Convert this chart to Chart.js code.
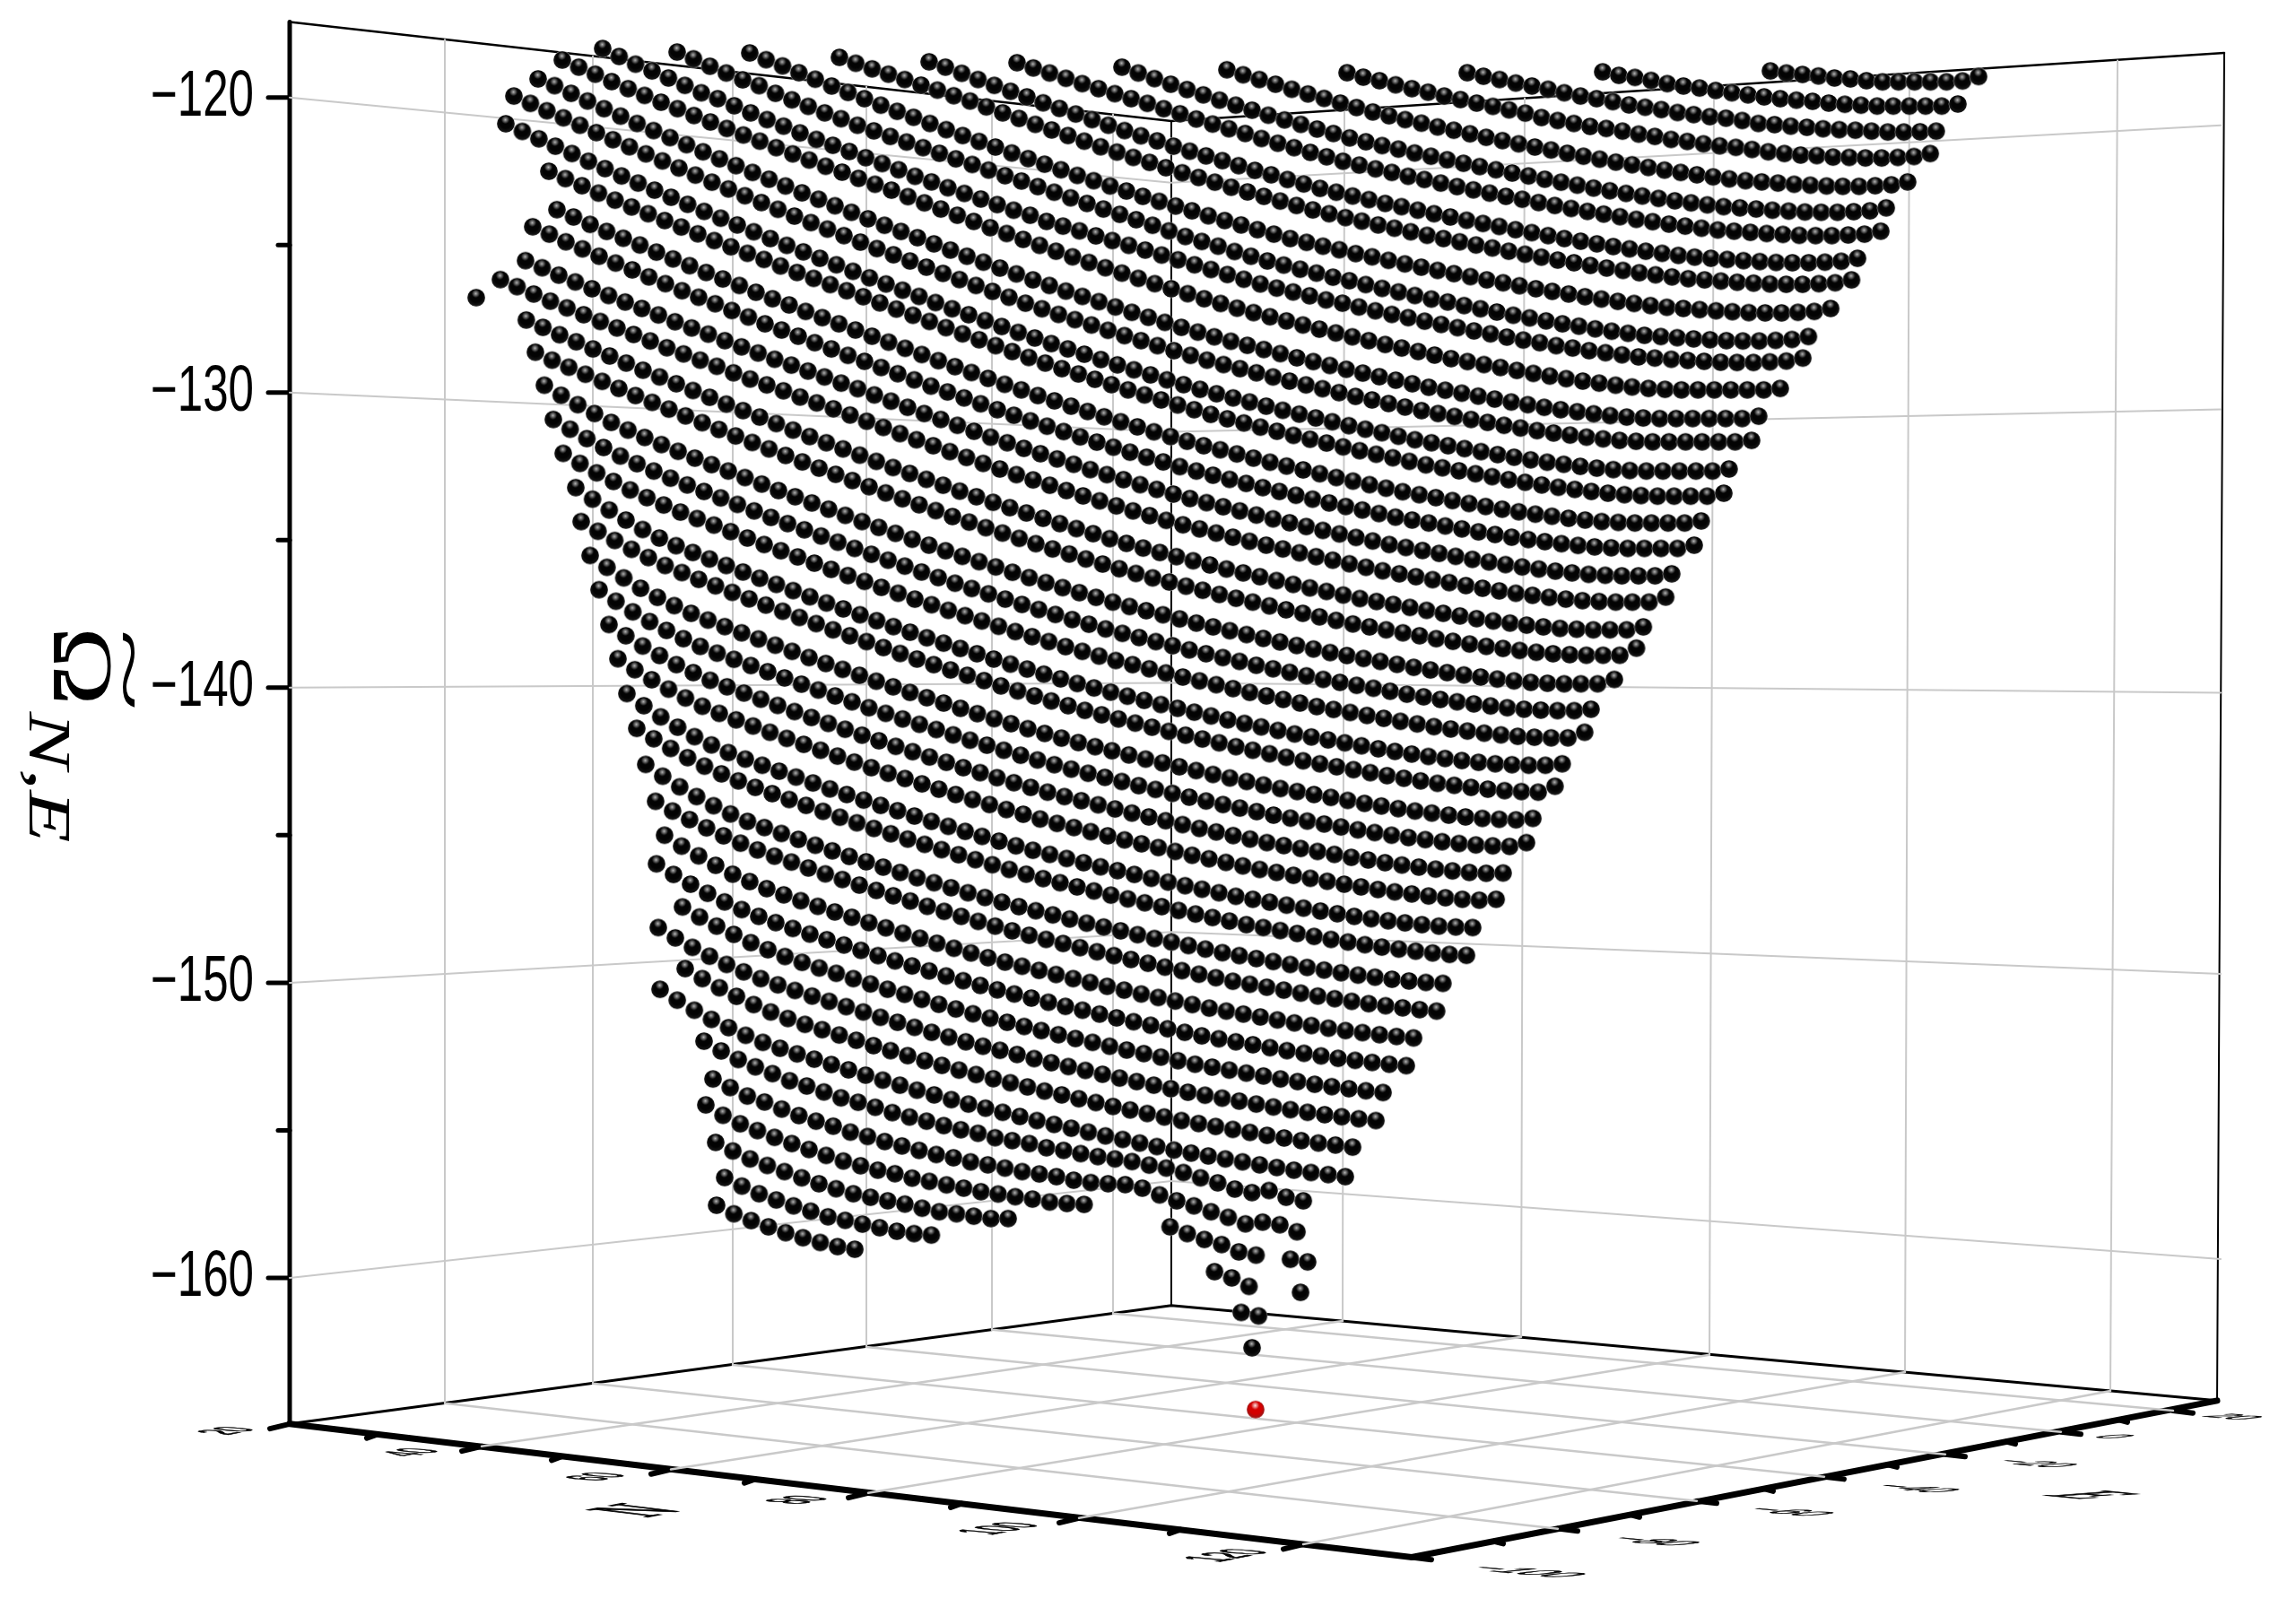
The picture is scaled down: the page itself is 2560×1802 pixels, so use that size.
<!DOCTYPE html>
<html>
<head>
  <meta charset="UTF-8">
  <title>Omega surface</title>
  <script src="https://cdn.jsdelivr.net/npm/chart.js"></script>
  <style>
    html, body { margin: 0; padding: 0; background: #fff; }
    canvas { display: block; }
  </style>
</head>
<body>
  <canvas id="surface" width="2560" height="1802"></canvas>

  <script>
    // The 3D box is read as it appears on the page: a horizontal reading (x)
    // against the printed Omega axis (y). Every mark goes through these two scales.

    // lattice rows, top to bottom: first horizontal reading, spacing, Omega of first point
    const rowStart = [1651,1464,1313,1179,1045,928,811,713,613,513,432,349,304,277,250,241,289,298,271,263,235,208,274,284,294,305,319,325,335,345,356,366,376,387,397,408,418,409,438,411,441,413,462,472,464,475,485,476];
    const rowStep = [17.85,18,18.03,18.06,18.07,18.13,18.17,18.16,18.2,18.26,18.28,18.33,18.35,18.39,18.4,18.43,18.45,18.49,18.5,18.52,18.56,18.59,18.6,18.64,18.66,18.67,18.64,18.72,18.77,18.8,18.81,18.83,18.86,18.88,18.91,18.93,18.98,19,19.05,19.05,19.08,19.1,19.09,19.15,19.17,19.18,19.2,19.26];
    const rowTop = [-119.10,-119.13,-119.16,-119.16,-119.06,-118.97,-118.82,-118.79,-118.64,-118.49,-118.46,-118.34,-118.73,-119.37,-119.95,-120.89,-122.50,-123.80,-124.38,-125.53,-126.17,-126.78,-128.63,-129.75,-130.91,-132.06,-133.22,-134.37,-135.52,-136.68,-137.86,-139.02,-140.20,-141.38,-142.60,-143.85,-145.00,-145.97,-147.43,-148.13,-149.52,-150.22,-151.98,-153.26,-154.14,-155.41,-156.60,-157.54];

    // how far each point of a row lies below the row's first point, in 0.01 of Omega (null = no point)
    const rowFall = [
      [0,7,12,17,24,27,33,37,37,37,37,37,34,19],
      [0,12,19,29,40,48,55,63,71,78,85,91,96,100,106,110,113,116,116,116,116,116,109],
      [0,12,23,35,45,56,68,79,88,98,109,117,125,135,142,149,154,162,172,176,181,185,190,193,195,198,201,201,200,198],
      [0,15,27,41,54,66,79,91,103,114,126,137,152,162,172,182,189,198,208,216,226,233,241,248,253,260,268,274,279,281,286,287,289,289,287,284,274],
      [0,17,33,49,66,82,97,113,128,143,156,169,181,194,205,217,229,240,251,262,272,283,293,303,313,322,331,340,348,356,363,370,376,380,384,388,391,394,395,395,393,390,380],
      [0,20,39,58,76,94,112,129,146,163,179,194,210,225,240,253,266,278,291,302,314,326,337,348,359,369,380,390,400,410,419,428,437,445,453,460,467,473,477,481,485,488,491,492,492,490,487,477],
      [0,18,35,53,71,88,105,122,138,156,173,191,208,224,240,257,273,288,304,319,334,347,360,372,385,396,408,420,431,442,453,463,474,484,494,504,513,522,531,539,547,554,561,567,571,575,579,582,585,586,586,584,581,571],
      [0,18,39,60,80,100,119,139,158,177,196,215,233,251,268,286,303,319,335,352,368,383,399,414,429,442,455,467,480,491,503,515,526,537,548,558,569,579,589,599,608,617,626,634,642,649,656,662,666,670,674,677,680,681,681,679,676,666],
      [0,20,39,57,75,94,111,130,148,168,188,207,227,246,265,284,303,321,339,356,374,391,407,423,440,456,471,487,502,517,530,543,555,568,579,591,603,614,625,636,646,657,667,677,687,696,705,714,722,730,737,744,750,754,758,762,765,768,769,769,767,764,754],
      [0,23,44,67,89,112,134,155,177,198,218,239,260,280,300,319,339,358,377,396,415,433,451,468,486,503,519,535,552,568,583,599,614,629,642,655,667,680,691,703,715,726,737,748,758,769,779,789,799,808,817,826,834,842,849,856,862,866,870,874,877,880,881,881,879,876,866],
      [0,23,48,71,94,114,140,162,184,206,226,248,267,286,305,324,343,362,381,400,419,437,456,475,494,513,532,550,568,587,606,625,642,658,676,692,708,722,736,749,763,775,788,801,813,825,837,847,859,870,881,892,901,911,921,929,938,946,953,960,964,968,972,975,978,979,979,977,974,964],
      [0,27,53,76,100,125,150,170,194,218,241,263,286,308,328,349,370,390,411,433,452,472,491,510,529,548,565,586,602,618,635,651,667,683,700,716,733,749,766,782,798,812,825,838,852,863,876,889,901,912,924,935,946,957,967,978,988,997,1007,1015,1024,1031,1038,1045,1049,1053,1057,1060,1063,1064,1064,1062,1059,1049],
      [0,24,48,73,97,120,143,165,188,210,232,254,275,297,318,339,360,380,401,421,441,463,484,505,526,547,568,588,608,628,648,667,686,704,722,740,758,775,792,809,825,841,856,870,884,898,912,925,938,951,964,976,988,1000,1012,1022,1032,1042,1052,1062,1071,1080,1088,1095,1102,1108,1113,1116,1118,1118,1118,1118,1118,1118,1113],
      [0,23,49,75,101,126,151,175,199,223,247,271,294,317,340,363,386,408,430,452,474,496,517,538,559,580,601,621,641,661,681,700,719,737,755,773,791,808,825,842,858,874,889,903,917,931,945,958,971,984,997,1009,1021,1033,1045,1055,1065,1075,1085,1095,1104,1113,1121,1128,1135,1141,1146,1149,1151,1151,1151,1151,1151,1151,1143],
      [0,25,50,74,99,124,148,172,196,220,244,268,292,315,338,361,384,407,429,451,473,495,517,538,559,580,601,622,642,662,682,702,721,740,758,776,794,812,829,846,863,879,895,910,924,938,952,966,979,992,1005,1018,1030,1042,1054,1066,1076,1086,1096,1106,1116,1125,1134,1142,1149,1156,1162,1167,1170,1172,1172,1172,1172,1172,1172,1167],
      [0,26,51,76,101,127,152,177,201,225,249,273,297,320,343,366,389,412,434,456,478,500,522,543,564,585,606,627,647,667,687,707,726,745,763,781,799,817,834,851,868,884,900,915,929,943,957,971,984,997,1010,1023,1035,1047,1059,1071,1081,1091,1101,1111,1121,1130,1139,1147,1154,1161,1167,1172,1175,1177,1177,1177,1177,1177,1170],
      [0,25,49,74,98,121,144,167,189,212,235,256,278,299,321,343,363,384,405,425,446,467,488,509,530,551,571,591,611,631,650,669,687,705,723,741,758,775,792,808,824,839,853,867,881,895,908,921,934,947,959,971,983,995,1005,1015,1025,1035,1045,1054,1063,1071,1078,1085,1091,1096,1099,1101,1101,1101,1101,1091],
      [0,25,50,74,97,120,144,167,190,213,235,257,280,302,323,345,366,387,408,429,449,470,491,512,532,552,572,592,611,630,648,666,684,702,719,736,753,769,785,800,814,828,842,856,869,882,895,908,920,932,944,956,966,976,986,996,1006,1015,1024,1032,1039,1046,1052,1057,1060,1062,1062,1062,1062,1055],
      [0,25,51,75,100,123,146,170,193,217,239,261,284,306,329,350,371,393,414,436,456,477,498,519,540,560,580,600,620,639,658,676,694,712,730,747,764,781,797,813,828,842,856,870,884,897,910,923,936,948,960,972,984,994,1004,1014,1024,1034,1043,1052,1060,1067,1074,1080,1085,1088,1090,1090,1090,1090,1079],
      [0,24,49,72,95,118,140,162,184,207,228,249,271,292,313,334,354,374,394,415,434,455,476,497,518,538,558,578,598,617,636,654,672,690,708,725,742,759,775,791,806,820,834,848,862,875,888,901,914,926,938,950,962,972,982,992,1002,1012,1021,1030,1038,1045,1052,1058,1063,1066,1068,1068,1068,1061],
      [0,24,49,73,96,119,142,164,186,208,231,252,273,294,316,337,357,377,398,418,438,459,480,501,522,543,563,583,603,623,642,661,679,697,715,733,750,767,784,800,816,831,845,859,873,887,900,913,926,939,951,963,975,987,997,1007,1017,1027,1037,1046,1055,1063,1070,1077,1083,1088,1091,1093,1093,1093,1076],
      [0,null,null,76,101,126,150,174,198,222,246,269,292,315,338,361,383,405,427,449,471,492,513,534,555,576,596,616,636,656,675,694,712,730,748,766,783,800,817,833,849,864,878,892,906,920,933,946,959,972,984,996,1008,1020,1030,1040,1050,1060,1070,1079,1088,1096,1103,1110,1116,1121,1124,1126,1126,1126,1116],
      [0,27,51,75,99,123,147,170,193,216,239,262,284,306,328,350,372,393,414,435,456,477,497,517,537,557,576,595,613,631,649,667,684,701,718,734,750,765,779,793,807,821,834,847,860,873,885,897,909,921,931,941,951,961,971,980,989,997,1004,1011,1017,1022,1025,1027,1027,1027,1003],
      [0,34,66,96,126,152,177,201,224,247,269,291,313,335,357,378,399,420,441,462,482,502,522,542,561,580,598,616,634,652,669,686,703,719,735,750,764,778,792,806,819,832,845,858,870,882,894,906,916,926,936,946,956,965,974,982,989,996,1002,1007,1010,1012,1012,1012,997],
      [0,33,65,95,124,150,175,199,222,244,266,288,310,332,353,374,395,416,437,457,477,497,517,536,555,573,591,609,627,644,661,678,694,710,725,739,753,767,781,794,807,820,833,845,857,869,881,891,901,911,921,931,940,949,957,964,971,977,982,985,987,987,982],
      [0,34,66,95,124,150,175,199,221,243,265,287,309,330,351,372,393,414,434,454,474,494,513,532,550,568,586,604,621,638,655,671,687,702,716,730,744,758,771,784,797,810,822,834,846,858,868,878,888,898,908,917,926,934,941,948,954,959,962,964,964,945],
      [0,39,76,110,142,171,197,220,242,264,286,307,328,349,370,391,411,431,451,471,490,509,527,545,563,581,598,615,632,648,664,679,693,707,721,735,748,761,774,787,799,811,823,835,845,855,865,875,885,894,903,911,918,925,931,936,939,941,941,936],
      [0,33,64,94,122,149,173,196,218,240,262,283,304,325,346,367,387,407,427,447,466,485,503,521,539,557,574,591,608,624,640,655,669,683,697,711,724,737,750,763,775,787,799,811,821,831,841,851,861,870,879,887,894,901,907,912,915,917,897],
      [0,40,76,111,142,170,196,219,241,262,283,304,325,346,366,386,406,426,445,464,482,500,518,536,553,570,587,603,619,634,648,662,676,690,703,716,729,742,754,766,778,790,800,810,820,830,840,849,858,866,873,880,886,891,894,896,891],
      [0,39,75,108,138,166,192,215,236,257,278,299,320,340,360,380,400,419,438,456,474,492,510,527,544,561,577,593,608,622,636,650,664,677,690,703,716,728,740,752,764,774,784,794,804,814,823,832,840,847,854,860,865,868,870,857],
      [0,38,73,105,136,163,189,211,232,253,274,295,315,335,355,375,394,413,431,449,467,485,502,519,536,552,568,583,597,611,625,639,652,665,678,691,703,715,727,739,749,759,769,779,789,798,807,815,822,829,835,840,843,842],
      [0,37,71,103,133,161,185,207,228,249,270,290,310,330,350,369,388,406,424,442,460,477,494,511,527,543,558,572,586,600,614,627,640,653,666,678,690,702,714,724,734,744,754,764,773,782,790,797,804,810,815,818,815],
      [0,41,79,114,146,174,200,222,243,263,283,303,323,342,361,379,397,415,433,450,467,484,500,516,531,545,559,573,587,600,613,626,639,651,663,675,687,697,707,717,727,737,746,755,763,770,777,783,788,791,793],
      [0,35,68,99,128,154,178,200,221,241,261,281,301,320,339,357,375,393,411,428,445,462,478,494,509,523,537,551,565,578,591,604,617,629,641,653,665,675,685,695,705,715,724,733,741,748,755,761,766,769],
      [0,40,76,109,140,168,193,214,234,254,274,293,312,330,348,366,384,401,418,435,451,467,482,496,510,524,538,551,564,577,590,602,614,626,638,648,658,668,678,688,697,706,714,721,728,734,739,742],
      [0,33,62,90,117,142,165,186,206,226,246,265,284,302,320,338,356,373,390,407,423,439,454,468,482,496,510,523,536,549,562,574,586,598,610,620,630,640,650,660,669,678,686,693,700,706,711],
      [0,37,70,102,132,157,181,202,222,241,260,278,296,314,332,349,366,383,399,415,430,444,458,472,486,499,512,525,538,550,562,574,586,596,606,616,626,636,645,654,662,669,676,682,687],
      [0,36,69,100,129,155,178,199,219,238,257,275,293,311,329,346,363,380,396,412,427,441,455,469,483,496,509,522,535,547,559,571,583,593,603,613,623,633,642,651,659,666,673,679,684],
      [0,34,65,93,121,145,168,188,207,225,243,261,279,296,313,330,346,362,377,391,405,419,433,446,459,472,485,497,509,521,533,543,553,563,573,583,592,601,609,616,623,629],
      [0,35,67,97,125,150,173,194,213,232,250,268,286,304,321,338,355,371,387,402,416,430,444,458,471,484,497,510,522,534,546,558,568,578,588,598,608,617,626,634,641,648,654],
      [0,34,65,94,122,147,169,189,207,225,243,261,278,295,312,328,344,359,373,387,401,415,428,441,454,467,479,491,503,515,525,535,545,555,565,574,583,591,598,605],
      [0,37,71,102,130,156,180,200,219,237,255,273,291,308,325,342,358,374,389,403,417,431,445,458,471,484,497,509,521,533,545,555,565,575,585,595,604,613,621,628,635],
      [0,33,62,87,110,134,152,172,192,207,224,242,257,271,286,300,312,327,337,347,361,370,381,391,399,408,420,430,445,463,480,501,513,506,529,541],
      [0,29,58,78,102,124,143,160,180,195,212,227,242,256,267,281,291,302,314,322,331,343,351,355,358,370,393,413,430,450,469,491,485,494,518],
      [0,35,64,87,110,131,151,171,190,206,221,233,248,259,271,282,294,302,311,319,329,334,337,null,null,null,null,413,436,456,473,498,509,null,523,532],
      [0,29,56,78,99,120,140,157,174,186,198,209,223,235,242,250,258,258,null,null,null,null,null,null,null,null,null,null,null,438,459,488,null,null,508],
      [0,29,55,76,96,114,133,145,158,170,182,190,195,null,null,null,null,null,null,null,null,null,null,null,null,null,null,null,null,null,457,469],
      [0,29,52,73,93,110,126,140,149,null,null,null,null,null,null,null,null,null,null,null,null,null,null,null,null,null,null,null,null,null,null,483]
    ];

    const redPoint = [{ x: 1077, y: -164.46 }];

    // printed Omega axis
    const omegaMajor = [-120, -130, -140, -150, -160];
    const omegaMinor = [-125, -135, -145, -155];

    // box corners [horizontal reading, Omega reading]
    const cornerLeftBottom = [0, -164.95];
    const cornerLeftTop = [0, -117.44];
    const cornerBackBottom = [983, -160.94];
    const cornerBackTop = [983, -120.80];
    const cornerRightBottom = [2149, -164.16];
    const cornerRightTop = [2157, -118.49];
    const cornerFront = [1251, -169.47];

    // horizontal wall lines: left edge, back edge, right edge
    const wallLineX = [0, 983, 2153];
    const wallLines = [
      [-120, -122.89, -120.94],
      [-130, -131.33, -130.57],
      [-140, -139.84, -140.17],
      [-150, -148.28, -149.70],
      [-160, -156.72, -159.36]
    ];

    // N axis ticks (20 ... 120) and E axis ticks (-100 ... 20) along the floor edges
    const nLabels = ['20', '40', '60', '80', '100', '120'];
    const nTickX = [0, 214, 425, 645, 880, 1130];
    const nTickY = [-164.95, -165.71, -166.49, -167.29, -168.14, -169.03];
    const nMinorX = [98, 304, 519, 749, 993];
    const nMinorY = [-165.30, -166.05, -166.82, -167.65, -168.53];
    const nLabelX = [-68, 137, 344, 569, 793, 1047];
    const nLabelY = [-165.19, -165.92, -166.74, -167.53, -168.50, -169.41];

    const eLabels = ['\u2212100', '\u221280', '\u221260', '\u221240', '\u221220', '0', '20'];
    const eTickX = [1251, 1414, 1569, 1711, 1846, 1975, 2100];
    const eTickY = [-169.47, -168.50, -167.56, -166.74, -165.98, -165.22, -164.50];
    const eMinorX = [1343, 1495, 1644, 1782, 1914, 2039];
    const eMinorY = [-168.93, -168.03, -167.15, -166.33, -165.55, -164.81];
    const eLabelX = [1376, 1518, 1669, 1811, 1944, 2032, 2165];
    const eLabelY = [-169.96, -168.93, -167.93, -167.14, -166.29, -165.38, -164.71];

    // where the floor lines meet the far edges
    const eFarX = [173, 338, 494, 643, 783, 918];
    const eFarY = [-164.25, -163.58, -162.95, -162.34, -161.76, -161.21];
    const nFarX = [1174, 1373, 1583, 1801, 2030];
    const nFarY = [-161.46, -162.00, -162.61, -163.19, -163.83];

    // wall verticals run up from those far edges
    const eTopY = [-118.04, -118.60, -119.13, -119.64, -120.12, -120.57];
    const nTopX = [1176, 1377, 1588, 1806, 2038];
    const nTopY = [-120.42, -120.03, -119.62, -119.20, -118.75];

    function makeBall(core, shine) {
      const c = document.createElement('canvas');
      c.width = 22; c.height = 22;
      const g = c.getContext('2d');
      g.fillStyle = 'rgba(255,255,255,0.6)';
      g.beginPath(); g.arc(11, 11, 10.4, 0, Math.PI * 2); g.fill();
      g.fillStyle = core;
      g.beginPath(); g.arc(11, 11, 9.8, 0, Math.PI * 2); g.fill();
      const rim = g.createRadialGradient(11, 9, 7, 11, 11, 9.8);
      rim.addColorStop(0, 'rgba(60,60,60,0)');
      rim.addColorStop(1, 'rgba(60,60,60,0.4)');
      g.fillStyle = rim;
      g.beginPath(); g.arc(11, 11, 9.8, 0, Math.PI * 2); g.fill();
      const hi = g.createRadialGradient(10.5, 6.5, 0, 10.5, 6.5, 4.6);
      hi.addColorStop(0, shine);
      hi.addColorStop(1, 'rgba(255,255,255,0)');
      g.fillStyle = hi;
      g.beginPath(); g.arc(11, 11, 9.8, 0, Math.PI * 2); g.fill();
      return c;
    }

    function line(points, color, width) {
      return {
        type: 'scatter', showLine: true, clip: false, order: 5,
        data: points.map(p => ({ x: p[0], y: p[1] })),
        borderColor: color, borderWidth: width, borderCapStyle: 'round',
        pointRadius: 0, fill: false
      };
    }

    const GREY = '#c9c9c9';
    const datasets = [];

    // grey grid on the walls and floor
    wallLines.forEach(w => datasets.push(line(w.map((y, i) => [wallLineX[i], y]), GREY, 2)));
    eFarX.forEach((x, i) => {
      datasets.push(line([[x, eFarY[i]], [x, eTopY[i]]], GREY, 2));
      datasets.push(line([[x, eFarY[i]], [eTickX[i + 1], eTickY[i + 1]]], GREY, 2.5));
    });
    nFarX.forEach((x, i) => {
      datasets.push(line([[x, nFarY[i]], [nTopX[i], nTopY[i]]], GREY, 2));
      datasets.push(line([[x, nFarY[i]], [nTickX[i + 1], nTickY[i + 1]]], GREY, 2.5));
    });

    // black frame
    datasets.push(line([cornerLeftTop, cornerBackTop, cornerRightTop], '#000', 2.5));
    datasets.push(line([cornerBackTop, cornerBackBottom], '#000', 2));
    datasets.push(line([cornerRightTop, cornerRightBottom], '#000', 2));
    datasets.push(line([cornerLeftBottom, cornerBackBottom, cornerRightBottom], '#000', 3));
    datasets.push(line([cornerLeftBottom, cornerLeftTop], '#000', 5));
    datasets.push(line([cornerLeftBottom, cornerFront, cornerRightBottom], '#000', 7));

    // tick marks
    omegaMajor.forEach(v => datasets.push(line([[0, v], [-24, v]], '#000', 5)));
    omegaMinor.forEach(v => datasets.push(line([[0, v], [-13, v]], '#000', 5)));
    nTickX.forEach((x, i) => datasets.push(line([[x, nTickY[i]], [x - 22, nTickY[i] - 0.16]], '#000', 6)));
    nMinorX.forEach((x, i) => datasets.push(line([[x, nMinorY[i]], [x - 12, nMinorY[i] - 0.13]], '#000', 6)));
    eTickX.forEach((x, i) => datasets.push(line([[x, eTickY[i]], [x + 22, eTickY[i] - 0.08]], '#000', 6)));
    eMinorX.forEach((x, i) => datasets.push(line([[x, eMinorY[i]], [x + 10, eMinorY[i] - 0.08]], '#000', 6)));

    // the points themselves
    const ballPoints = [];
    rowFall.forEach((fall, k) => {
      fall.forEach((f, i) => {
        if (f === null) return;
        ballPoints.push({ x: rowStart[k] + i * rowStep[k], y: rowTop[k] - f / 100 });
      });
    });
    datasets.push({
      type: 'scatter', order: 1, data: ballPoints,
      pointStyle: makeBall('#030303', 'rgba(255,255,255,0.7)'), pointRadius: 9
    });
    datasets.push({
      type: 'scatter', order: 0, data: redPoint,
      pointStyle: makeBall('#d40000', 'rgba(255,235,235,0.95)'), pointRadius: 9
    });

    // floor labels lie flat in the box, so they get a slanted text matrix
    function flatText(ctx, chart, text, xv, yv, u, v, size, font) {
      ctx.save();
      ctx.translate(chart.scales.x.getPixelForValue(xv), chart.scales.y.getPixelForValue(yv));
      ctx.transform(size * u[0] / 20, size * u[1] / 20, -size * v[0] / 20, -size * v[1] / 20, 0, 0);
      ctx.font = font;
      ctx.fillStyle = '#000';
      ctx.strokeStyle = '#000';
      ctx.lineWidth = 0.7;
      ctx.textAlign = 'center';
      ctx.textBaseline = 'middle';
      ctx.fillText(text, 0, 0);
      ctx.strokeText(text, 0, 0);
      ctx.restore();
    }

    const labelPlugin = {
      id: 'boxLabels',
      afterDraw(chart) {
        const ctx = chart.ctx;
        const sans = '20px "Liberation Sans", Arial, sans-serif';
        const serif = 'italic 20px "Liberation Serif", serif';
        const nU = [36, -7], nV = [-63, -5.6];
        const eU = [42, 4], eV = [50, -5];
        nLabels.forEach((t, i) => flatText(ctx, chart, t, nLabelX[i], nLabelY[i], nU, nV, 0.85 + 0.03 * i, sans));
        eLabels.forEach((t, i) => flatText(ctx, chart, t, eLabelX[i], eLabelY[i], eU, eV, 1.12 - 0.035 * i, sans));
        flatText(ctx, chart, 'N', 391, -167.90, nU, nV, 1.8, serif);
        flatText(ctx, chart, 'E', 2004, -167.37, eU, eV, 1.8, serif);

        // narrow Omega tick labels
        omegaMajor.forEach(v => {
          ctx.save();
          ctx.translate(chart.chartArea.left - 40, chart.scales.y.getPixelForValue(v));
          ctx.scale(0.71, 1);
          ctx.font = '72px "Liberation Sans", Arial, sans-serif';
          ctx.fillStyle = '#000';
          ctx.textAlign = 'right';
          ctx.textBaseline = 'middle';
          ctx.fillText('\u2212' + Math.abs(v), 0, 0);
          ctx.restore();
        });

        // Omega-tilde with subscript, reading downwards
        const mid = chart.scales.y.getPixelForValue(-140);
        const put = (text, baseX, top, font, stretch) => {
          ctx.save();
          ctx.translate(baseX, mid + top);
          ctx.rotate(Math.PI / 2);
          ctx.scale(stretch, 1);
          ctx.font = font;
          ctx.fillStyle = '#000';
          ctx.textAlign = 'left';
          ctx.textBaseline = 'alphabetic';
          ctx.fillText(text, 0, 0);
          ctx.restore();
        };
        put('\u03A9', 60, -68, '95px "Liberation Serif", serif', 1.25);
        put('~', 118, -66, '78px "Liberation Serif", serif', 2.2);
        put('N,E', 33, 27, 'italic 68px "Liberation Serif", serif', 1.4);
      }
    };

    new Chart(document.getElementById('surface'), {
      type: 'scatter',
      data: { datasets },
      plugins: [labelPlugin],
      options: {
        responsive: false,
        animation: false,
        devicePixelRatio: 1,
        layout: { padding: { top: 9, bottom: 48, right: 77, left: 0 } },
        plugins: { legend: { display: false }, tooltip: { enabled: false } },
        scales: {
          x: { type: 'linear', display: false, min: 0, max: 2160 },
          y: {
            type: 'linear',
            min: -170,
            max: -117,
            border: { display: false },
            grid: { display: false, drawTicks: false },
            afterFit(scale) {
              scale.width = 323;
              scale.paddingTop = 0;
              scale.paddingBottom = 0;
            },
            afterBuildTicks(scale) {
              scale.ticks = omegaMajor.map(v => ({ value: v }));
            },
            ticks: { display: false }
          }
        }
      }
    });
  </script>
</body>
</html>
